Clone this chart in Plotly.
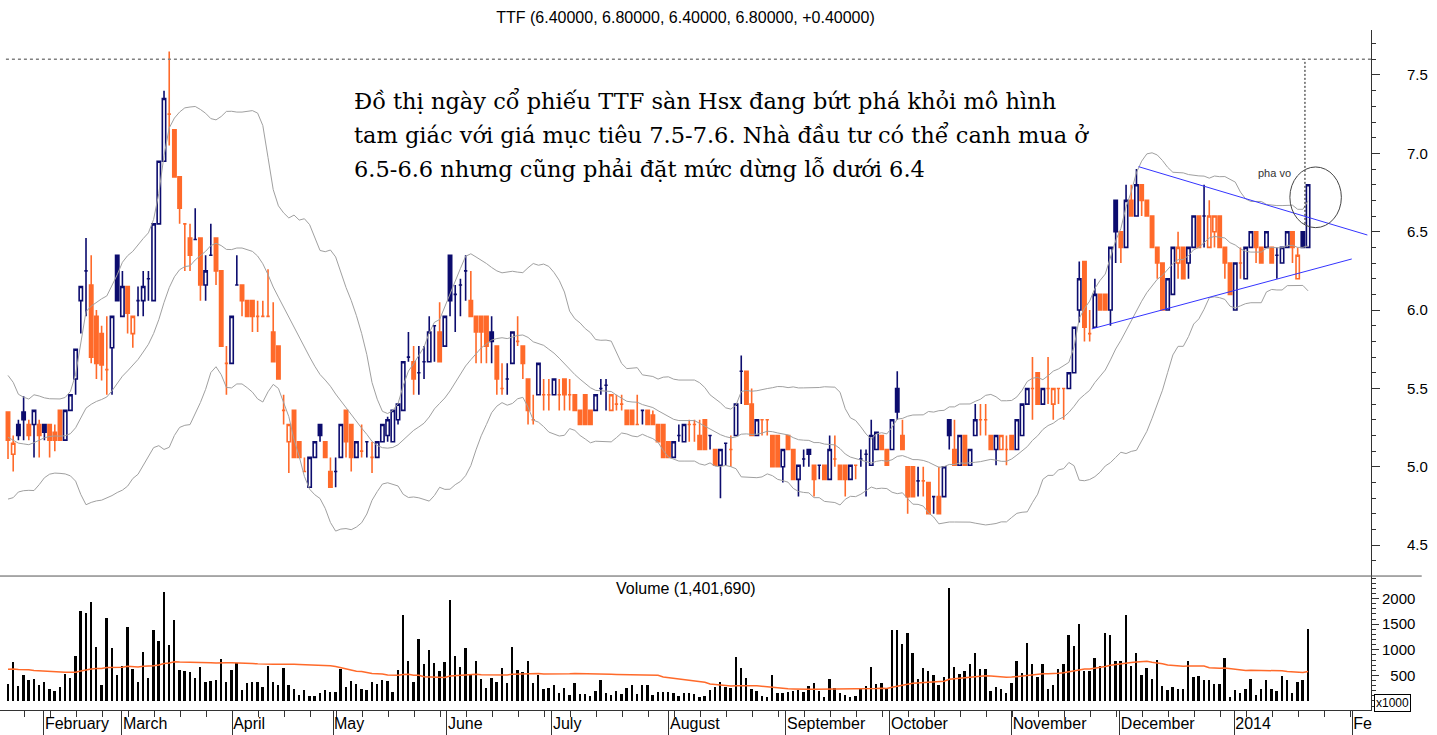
import plotly.graph_objects as go
import pandas as pd

# ---------------- data ----------------
open_ = [
    5.35, 5.08, 5.27, 5.35, 5.27, 5.27, 5.27, 5.27, 5.27, 5.22,
    5.36, 5.17, 5.36, 5.56, 6.06, 6.25, 6.16, 5.96, 5.85, 5.62,
    5.76, 6.35, 5.96, 6.15, 5.85, 6.06, 6.06, 6.20, 6.06, 6.55,
    6.95, 7.25, 7.15, 6.85, 6.55, 6.46, 6.45, 6.46, 6.16, 6.35,
    6.46, 6.25, 5.66, 5.66, 6.16, 6.16, 6.06, 6.06, 5.96, 5.96,
    5.96, 5.86, 5.77, 5.36, 5.16, 5.36, 5.16, 4.97, 4.87, 5.06,
    5.27, 5.16, 4.97, 4.97, 5.06, 5.36, 5.27, 5.06, 5.10, 5.16,
    5.06, 5.06, 5.16, 5.20, 5.16, 5.30, 5.36, 5.70, 5.67, 5.60,
    5.67, 5.67, 5.90, 5.86, 5.77, 6.35, 6.10, 6.16, 6.25, 6.06,
    5.96, 5.96, 5.96, 5.86, 5.77, 5.50, 5.56, 5.66, 5.80, 5.77,
    5.56, 5.30, 5.46, 5.46, 5.46, 5.46, 5.46, 5.56, 5.46, 5.46,
    5.36, 5.46, 5.36, 5.36, 5.50, 5.52, 5.36, 5.40, 5.40, 5.36,
    5.36, 5.27, 5.36, 5.36, 5.33, 5.27, 5.27, 5.16, 5.06, 5.20,
    5.16, 5.27, 5.27, 5.20, 5.30, 5.20, 5.11, 5.01, 5.15, 5.11,
    5.20, 5.61, 5.61, 5.40, 5.20, 5.30, 5.30, 5.20, 5.20, 5.00,
    5.20, 5.11, 4.92, 5.05, 5.11, 5.01, 5.01, 5.01, 4.92, 5.05,
    5.01, 5.01, 4.92, 5.01, 5.05, 5.08, 5.01, 5.11, 5.20, 5.11,
    5.11, 5.50, 5.20, 5.00, 5.00, 4.91, 4.91, 4.90, 4.81, 4.81,
    4.81, 5.30, 5.11, 5.01, 5.20, 5.01, 5.20, 5.30, 5.30, 5.20,
    5.11, 5.11, 5.11, 5.20, 5.11, 5.20, 5.40, 5.50, 5.60, 5.40,
    5.50, 5.40, 5.50, 5.50, 5.50, 5.60, 6.00, 6.31, 5.85, 5.89,
    6.10, 6.10, 6.00, 6.70, 6.50, 6.40, 6.70, 6.60, 6.80, 6.70,
    6.60, 6.40, 6.30, 6.00, 6.10, 6.30, 6.40, 6.30, 6.40, 6.60,
    6.60, 6.40, 6.50, 6.60, 6.40, 6.30, 6.00, 6.30, 6.20, 6.40,
    6.50, 6.40, 6.40, 6.40, 6.35, 6.30, 6.40, 6.50, 6.20, 6.50,
    6.40,
]
high = [
    5.35, 5.20, 5.30, 5.45, 5.30, 5.36, 5.30, 5.27, 5.27, 5.27,
    5.36, 5.36, 5.46, 5.75, 6.15, 6.46, 6.35, 6.00, 5.90, 5.96,
    5.96, 6.35, 6.25, 6.15, 5.96, 6.15, 6.25, 6.25, 6.55, 6.95,
    7.40, 7.65, 7.15, 6.85, 6.55, 6.55, 6.65, 6.46, 6.35, 6.55,
    6.46, 6.25, 5.77, 5.96, 6.35, 6.16, 6.06, 6.06, 6.06, 6.06,
    6.26, 6.05, 5.77, 5.46, 5.27, 5.36, 5.16, 5.06, 5.06, 5.16,
    5.27, 5.16, 5.06, 5.06, 5.27, 5.36, 5.27, 5.16, 5.27, 5.16,
    5.16, 5.16, 5.27, 5.32, 5.36, 5.40, 5.67, 5.86, 5.77, 5.77,
    5.77, 5.96, 5.90, 6.05, 5.96, 6.35, 6.16, 6.20, 6.35, 6.25,
    5.96, 5.96, 5.96, 5.96, 5.77, 5.66, 5.66, 5.86, 5.96, 5.77,
    5.56, 5.46, 5.66, 5.56, 5.56, 5.56, 5.56, 5.56, 5.56, 5.46,
    5.36, 5.46, 5.36, 5.46, 5.56, 5.56, 5.46, 5.46, 5.46, 5.36,
    5.36, 5.46, 5.36, 5.36, 5.36, 5.27, 5.27, 5.16, 5.16, 5.27,
    5.27, 5.30, 5.30, 5.30, 5.30, 5.20, 5.11, 5.11, 5.15, 5.20,
    5.40, 5.71, 5.61, 5.50, 5.30, 5.30, 5.30, 5.20, 5.20, 5.11,
    5.20, 5.11, 5.01, 5.11, 5.11, 5.01, 5.01, 5.01, 5.20, 5.20,
    5.01, 5.01, 5.01, 5.01, 5.11, 5.11, 5.30, 5.22, 5.20, 5.11,
    5.30, 5.61, 5.30, 5.00, 5.00, 5.00, 5.00, 4.90, 4.81, 5.00,
    5.00, 5.30, 5.30, 5.20, 5.20, 5.11, 5.40, 5.40, 5.40, 5.20,
    5.20, 5.20, 5.20, 5.20, 5.30, 5.40, 5.50, 5.70, 5.60, 5.50,
    5.70, 5.50, 5.50, 5.50, 5.60, 5.89, 6.31, 6.31, 6.00, 6.20,
    6.10, 6.10, 6.40, 6.70, 6.50, 6.80, 6.80, 6.90, 6.80, 6.70,
    6.60, 6.40, 6.30, 6.20, 6.40, 6.50, 6.40, 6.40, 6.60, 6.60,
    6.80, 6.70, 6.60, 6.60, 6.40, 6.30, 6.30, 6.40, 6.40, 6.50,
    6.50, 6.40, 6.50, 6.40, 6.40, 6.40, 6.50, 6.50, 6.40, 6.50,
    6.80,
]
low = [
    5.05, 4.97, 5.17, 5.17, 5.17, 5.06, 5.06, 5.17, 5.06, 5.10,
    5.17, 5.17, 5.36, 5.46, 5.85, 5.96, 5.66, 5.56, 5.55, 5.46,
    5.46, 6.06, 5.96, 5.85, 5.76, 5.96, 5.96, 6.06, 6.06, 6.55,
    6.95, 7.05, 6.85, 6.55, 6.25, 6.25, 6.45, 6.06, 6.06, 6.35,
    6.16, 5.77, 5.46, 5.66, 6.16, 5.96, 5.96, 5.86, 5.86, 5.96,
    5.96, 5.67, 5.56, 5.27, 4.96, 5.06, 5.06, 4.97, 4.87, 5.06,
    5.16, 5.06, 4.87, 4.87, 5.06, 5.06, 4.97, 5.06, 5.06, 5.06,
    4.96, 5.06, 5.16, 5.16, 5.16, 5.27, 5.36, 5.67, 5.46, 5.46,
    5.56, 5.67, 5.67, 5.67, 5.77, 5.96, 5.86, 5.96, 6.06, 5.96,
    5.66, 5.66, 5.66, 5.66, 5.46, 5.46, 5.46, 5.66, 5.77, 5.56,
    5.27, 5.27, 5.46, 5.36, 5.36, 5.46, 5.36, 5.36, 5.36, 5.36,
    5.27, 5.27, 5.27, 5.36, 5.46, 5.36, 5.36, 5.36, 5.36, 5.27,
    5.27, 5.27, 5.27, 5.27, 5.27, 5.16, 5.06, 5.06, 5.06, 5.16,
    5.16, 5.16, 5.16, 5.11, 5.11, 5.11, 5.01, 4.80, 5.01, 5.00,
    5.20, 5.40, 5.40, 5.20, 5.20, 5.20, 5.20, 5.00, 5.00, 4.90,
    5.11, 4.92, 4.81, 5.00, 5.00, 4.81, 4.92, 4.92, 4.92, 5.00,
    4.92, 4.81, 4.92, 4.92, 5.00, 4.81, 5.01, 5.11, 5.11, 5.01,
    5.11, 5.30, 5.11, 4.70, 4.81, 4.81, 4.81, 4.70, 4.70, 4.70,
    4.81, 5.11, 5.01, 5.01, 5.01, 5.01, 5.20, 5.20, 5.20, 5.11,
    5.01, 5.11, 5.01, 5.11, 5.11, 5.20, 5.40, 5.30, 5.40, 5.40,
    5.40, 5.30, 5.40, 5.30, 5.50, 5.60, 5.92, 5.80, 5.80, 5.89,
    6.00, 6.00, 5.90, 6.30, 6.30, 6.40, 6.60, 6.60, 6.60, 6.60,
    6.40, 6.20, 6.00, 6.00, 6.10, 6.20, 6.20, 6.20, 6.40, 6.40,
    6.40, 6.40, 6.40, 6.40, 6.20, 6.10, 6.00, 6.20, 6.20, 6.40,
    6.30, 6.30, 6.40, 6.30, 6.20, 6.30, 6.40, 6.30, 6.20, 6.40,
    6.40,
]
close = [
    5.17, 5.15, 5.20, 5.30, 5.20, 5.36, 5.20, 5.22, 5.17, 5.17,
    5.17, 5.36, 5.46, 5.75, 6.15, 6.25, 5.70, 5.66, 5.65, 5.62,
    5.96, 6.06, 6.15, 5.98, 5.96, 6.06, 6.15, 6.20, 6.55, 6.95,
    7.35, 7.25, 6.85, 6.65, 6.55, 6.35, 6.45, 6.16, 6.25, 6.35,
    6.25, 5.77, 5.66, 5.96, 6.16, 6.06, 5.96, 5.96, 5.96, 5.96,
    5.96, 5.67, 5.56, 5.36, 5.27, 5.06, 5.06, 4.97, 5.06, 5.16,
    5.20, 5.06, 4.87, 4.97, 5.27, 5.16, 5.06, 5.16, 5.10, 5.16,
    5.06, 5.16, 5.27, 5.30, 5.36, 5.40, 5.67, 5.70, 5.56, 5.60,
    5.67, 5.86, 5.90, 5.67, 5.96, 6.06, 6.10, 6.16, 6.25, 5.96,
    5.86, 5.86, 5.77, 5.80, 5.56, 5.50, 5.56, 5.86, 5.80, 5.66,
    5.36, 5.30, 5.66, 5.46, 5.46, 5.56, 5.46, 5.46, 5.46, 5.36,
    5.27, 5.27, 5.27, 5.46, 5.50, 5.52, 5.46, 5.40, 5.40, 5.27,
    5.27, 5.27, 5.36, 5.27, 5.27, 5.16, 5.06, 5.06, 5.16, 5.20,
    5.27, 5.27, 5.27, 5.11, 5.11, 5.20, 5.01, 5.11, 5.15, 5.11,
    5.40, 5.61, 5.40, 5.20, 5.30, 5.30, 5.30, 5.00, 5.00, 5.11,
    5.11, 4.92, 5.01, 5.05, 5.08, 4.92, 5.01, 4.92, 5.11, 5.05,
    4.92, 4.92, 5.01, 5.01, 5.05, 5.08, 5.20, 5.22, 5.11, 5.01,
    5.30, 5.35, 5.11, 4.81, 4.81, 4.91, 4.91, 4.70, 4.81, 4.70,
    5.00, 5.20, 5.01, 5.20, 5.01, 5.11, 5.30, 5.30, 5.30, 5.11,
    5.20, 5.20, 5.11, 5.11, 5.30, 5.40, 5.50, 5.50, 5.40, 5.50,
    5.50, 5.50, 5.50, 5.50, 5.60, 5.89, 6.20, 5.89, 5.85, 6.10,
    6.00, 6.00, 6.40, 6.50, 6.40, 6.70, 6.60, 6.80, 6.70, 6.60,
    6.40, 6.30, 6.00, 6.20, 6.40, 6.40, 6.20, 6.40, 6.60, 6.40,
    6.60, 6.60, 6.60, 6.40, 6.30, 6.10, 6.30, 6.30, 6.40, 6.50,
    6.40, 6.30, 6.50, 6.30, 6.35, 6.40, 6.50, 6.40, 6.35, 6.40,
    6.80,
]
# volume in thousands of shares
volume = [
    340, 760, 290, 500, 400, 430, 320, 380, 240, 200,
    276, 520, 450, 885, 1750, 1710, 1929, 1045, 320, 1622,
    1030, 500, 690, 1440, 630, 380, 960, 450, 1395, 1170,
    2135, 1090, 1580, 596, 580, 570, 450, 660, 370, 390,
    400, 820, 370, 596, 740, 212, 350, 370, 370, 276,
    690, 380, 320, 650, 320, 225, 115, 212, 100, 100,
    148, 212, 170, 180, 630, 276, 390, 340, 225, 212,
    370, 340, 400, 390, 180, 596, 1686, 790, 370, 1220,
    730, 990, 750, 590, 770, 1974, 870, 660, 1030, 520,
    790, 430, 260, 450, 370, 640, 350, 1060, 610, 570,
    780, 350, 500, 240, 260, 320, 160, 260, 115, 350,
    130, 130, 100, 200, 400, 160, 115, 200, 130, 260,
    320, 130, 320, 320, 115, 180, 180, 180, 160, 100,
    148, 160, 130, 70, 100, 212, 276,
    370, 276, 260, 860, 650, 450, 240, 200, 100, 83,
    510, 148, 148, 180, 200, 212, 180, 290, 350, 200,
    83, 420, 260, 148, 115, 83, 100, 225, 290, 670,
    340, 350, 225, 1380, 1380, 1120, 1330, 940, 430, 650,
    580, 500, 320, 470, 2199, 670, 520, 590, 730, 940,
    630, 630, 200, 276, 240, 160, 350, 790, 540, 1130,
    720, 460, 720, 240, 310, 630, 730, 1290, 1080, 1500,
    590, 580, 840, 690, 1320, 1290, 790, 790, 1670, 690,
    940, 510, 640, 420, 800, 290, 212, 276, 240, 225,
    790, 460, 480, 410, 400, 330, 330, 840, 83, 212,
    148, 240, 420, 115, 240, 410, 230, 200, 480, 410,
    148, 370, 400, 1402,
]
# history before the first visible bar (only feeds the indicators)
prior_close = [5.5, 5.6, 5.4, 5.3, 5.1, 4.9, 4.9, 5.0, 5.1, 5.2,
               5.3, 5.2, 5.0, 4.9, 5.0, 5.2, 5.3, 5.4, 5.3]
prior_volume = [520, 880, 410, 650, 1200, 730, 380, 560, 940, 470,
                610, 350, 820, 690, 450, 1050, 560, 390, 720, 880,
                430, 600, 510, 970, 640, 380, 560, 780, 450, 690,
                530, 410, 860, 600, 470, 750, 380, 620, 900, 540,
                430, 680, 590, 760, 420, 650, 510, 700, 600]

month_labels = ["February", "March", "April", "May", "June", "July", "August",
                "September", "October", "November", "December", "2014", "Fe"]
month_ticks = [6.9, 21.9, 43.1, 62.5, 84.4, 104.6, 127.1, 149.6, 169.6,
               193.0, 213.8, 235.8, 258.5]
price_ticks = [4.5, 5.0, 5.5, 6.0, 6.5, 7.0, 7.5]
volume_ticks = [500, 1000, 1500, 2000]
volume_ticktext = ["\u2007500", "1000", "1500", "2000"]

target_price = 7.6
trend_upper = [(217.4, 6.915), (261.4, 6.479)]
trend_lower = [(208.4, 5.880), (258.4, 6.326)]
breakout_circle = (246.5, 256.4, 6.526, 6.913)
note_lines = [
    "Đồ thị ngày cổ phiếu TTF sàn Hsx đang bứt phá khỏi mô hình",
    "tam giác với giá mục tiêu 7.5-7.6. Nhà đầu tư có thể canh mua ở",
    "6.5-6.6 nhưng cũng phải đặt mức dừng lỗ dưới 6.4",
]

# ---------------- indicators ----------------
n = len(close)
assert len(open_) == n and len(high) == n and len(low) == n and len(volume) == n
idx = list(range(n))

cs = pd.Series(prior_close + close)
mid = cs.rolling(20).mean()
sd = cs.rolling(20).std(ddof=0)
bb_mid = mid.iloc[-n:].tolist()
bb_up = (mid + 2 * sd).iloc[-n:].tolist()
bb_lo = (mid - 2 * sd).iloc[-n:].tolist()

vs = pd.Series(prior_volume + volume, dtype=float)
vol_ma = vs.rolling(50).mean().iloc[-n:].tolist()

prev = [prior_close[-1]] + close[:-1]
is_up = [close[i] > prev[i] for i in idx]

NAVY = "#0c0c6e"
ORANGE = "#ff6a2a"
GRID = "#333333"
FONT = "Liberation Sans, Arial, sans-serif"

fig = go.Figure()

for band in (bb_up, bb_mid, bb_lo):
    fig.add_trace(go.Scatter(x=idx, y=band, mode="lines",
                             line=dict(color="#a0a0a0", width=1),
                             hoverinfo="skip", showlegend=False,
                             xaxis="x", yaxis="y"))


def candles(flag, color):
    xs = [i for i in idx if is_up[i] == flag]
    return go.Candlestick(
        x=xs,
        open=[open_[i] for i in xs], high=[high[i] for i in xs],
        low=[low[i] for i in xs], close=[close[i] for i in xs],
        increasing=dict(line=dict(color=color, width=1.6), fillcolor="white"),
        decreasing=dict(line=dict(color=color, width=1.6), fillcolor=color),
        whiskerwidth=0, showlegend=False, hoverinfo="x+y",
        xaxis="x", yaxis="y")


fig.add_trace(candles(False, ORANGE))
fig.add_trace(candles(True, NAVY))

fig.add_trace(go.Bar(x=idx, y=volume, width=0.38,
                     marker=dict(color="black", line=dict(width=0)),
                     showlegend=False, xaxis="x", yaxis="y2"))
fig.add_trace(go.Scatter(x=idx, y=vol_ma, mode="lines",
                         line=dict(color=ORANGE, width=1.5),
                         hoverinfo="skip", showlegend=False,
                         xaxis="x", yaxis="y2"))

# trend lines of the triangle
for (xa, ya), (xb, yb) in (trend_upper, trend_lower):
    fig.add_shape(type="line", xref="x", yref="y", x0=xa, y0=ya, x1=xb, y1=yb,
                  line=dict(color="#3434ff", width=1))

# target level and marker
fig.add_shape(type="line", xref="x", yref="y", x0=-0.4, x1=262.1,
              y0=target_price, y1=target_price,
              line=dict(color="#808080", width=1.5, dash="3px,3px"))
fig.add_shape(type="line", xref="x", yref="y", x0=249.4, x1=249.4,
              y0=6.55, y1=target_price,
              line=dict(color="#111111", width=1, dash="2px,2px"))
cx0, cx1, cy0, cy1 = breakout_circle
fig.add_shape(type="circle", xref="x", yref="y", x0=cx0, x1=cx1, y0=cy0, y1=cy1,
              line=dict(color="#444444", width=1))
fig.add_annotation(x=243.5, y=6.875, xref="x", yref="y", text="pha vo",
                   showarrow=False, xanchor="center", yanchor="middle",
                   font=dict(family=FONT, size=11, color="#333333"))

# pane separator
fig.add_shape(type="line", xref="paper", yref="paper", x0=0, x1=1.037,
              y0=0.197, y1=0.197, line=dict(color="#555555", width=1))

# note text
for line_txt, yy in zip(note_lines, [0.897, 0.847, 0.796]):
    fig.add_annotation(x=0.2567, y=yy, xref="paper", yref="paper",
                       text=line_txt, showarrow=False, xanchor="left",
                       yanchor="middle",
                       font=dict(family="DejaVu Serif, serif", size=22.5, color="black"))

fig.add_annotation(x=0.5, y=(710 - 588) / 680, xref="paper", yref="paper",
                   text="Volume (1,401,690)", showarrow=False,
                   xanchor="center", yanchor="middle",
                   font=dict(family=FONT, size=16, color="black"))
fig.add_annotation(x=1392 / 1371, y=(710 - 702.5) / 680, xref="paper", yref="paper",
                   text="x1000", showarrow=False, bgcolor="white",
                   xanchor="center", yanchor="middle",
                   bordercolor="black", borderwidth=1, borderpad=1,
                   font=dict(family=FONT, size=12, color="black"))

fig.update_layout(
    width=1437, height=735,
    margin=dict(l=0, r=66, t=30, b=25),
    paper_bgcolor="white", plot_bgcolor="white",
    showlegend=False,
    boxgap=0.2, boxgroupgap=0.2, bargap=0,
    title=dict(text="TTF (6.40000, 6.80000, 6.40000, 6.80000, +0.40000)",
               x=0.5, xref="paper", xanchor="center",
               y=1 - 17 / 735, yref="container", yanchor="middle",
               font=dict(family=FONT, size=16, color="black")),
    xaxis=dict(domain=[0, 1], anchor="y2", range=[-1.54, 262.1],
               showgrid=False, zeroline=False, showline=True,
               linecolor=GRID, linewidth=1,
               ticks="outside", tickmode="array", tickvals=month_ticks,
               ticktext=month_labels, ticklen=25, tickcolor=GRID, tickwidth=1,
               ticklabelposition="outside right", ticklabelstandoff=-1,
               tickfont=dict(family=FONT, size=16, color="black"),
               minor=dict(tickmode="linear", tick0=3.1, dtick=5, ticks="outside",
                          ticklen=6, tickcolor=GRID, showgrid=False),
               rangeslider=dict(visible=False), fixedrange=True),
    yaxis=dict(domain=[0.197, 1], anchor="x", side="right",
               range=[4.303, 7.787], showgrid=False, zeroline=False,
               showline=True, linecolor=GRID, linewidth=1,
               ticks="outside", tickmode="array", tickvals=price_ticks,
               ticktext=[f"{v:.1f}" for v in price_ticks], ticklen=8,
               tickcolor=GRID, ticklabelstandoff=24,
               tickfont=dict(family=FONT, size=15, color="black"),
               minor=dict(tickmode="linear", tick0=4.5, dtick=0.1, ticks="outside",
                          ticklen=4, tickcolor=GRID, showgrid=False)),
    yaxis2=dict(domain=[0, 0.197], anchor="x", side="right",
                range=[-176, 2441], showgrid=False, zeroline=False,
                showline=True, linecolor=GRID, linewidth=1,
                ticks="outside", tickmode="array", tickvals=volume_ticks,
                ticktext=volume_ticktext, ticklen=7, tickcolor=GRID,
                tickfont=dict(family=FONT, size=15, color="black"),
                minor=dict(tickmode="linear", tick0=0, dtick=100, ticks="outside",
                           ticklen=4, tickcolor=GRID, showgrid=False)),
)

fig.write_html("out.html",
               config={"displayModeBar": False},
               post_script="document.body.style.margin='0';")
